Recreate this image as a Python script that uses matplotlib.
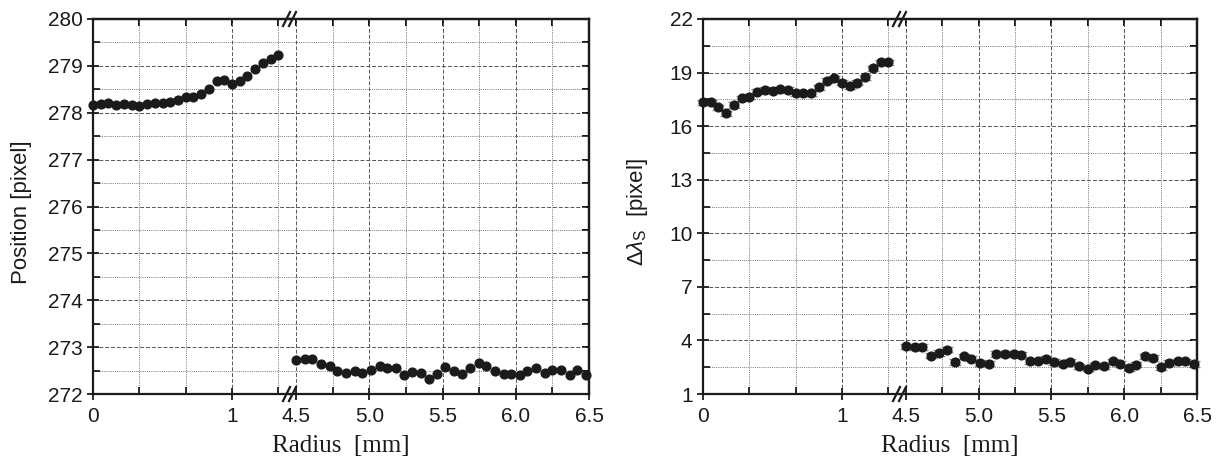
import matplotlib
matplotlib.use("Agg")
import matplotlib.pyplot as plt
from matplotlib.lines import Line2D

# ---------------- data ----------------
radius_inner = [0.0, 0.056, 0.111, 0.167, 0.222, 0.278, 0.333, 0.389, 0.444, 0.5,
                0.556, 0.611, 0.667, 0.722, 0.778, 0.833, 0.889, 0.944, 1.0, 1.056,
                1.111, 1.167, 1.222, 1.278, 1.333]
radius_outer = [4.50, 4.56, 4.61, 4.67, 4.73, 4.78, 4.84, 4.90, 4.95, 5.01, 5.07, 5.12,
                5.18, 5.24, 5.29, 5.35, 5.41, 5.46, 5.52, 5.58, 5.63, 5.69, 5.75, 5.80,
                5.86, 5.92, 5.97, 6.03, 6.08, 6.14, 6.20, 6.25, 6.31, 6.37, 6.42, 6.48]

pos_inner = [278.17, 278.18, 278.21, 278.17, 278.18, 278.16, 278.14, 278.18, 278.21,
             278.21, 278.22, 278.27, 278.33, 278.34, 278.41, 278.50, 278.67, 278.70,
             278.62, 278.68, 278.79, 278.94, 279.07, 279.14, 279.23]
pos_outer = [272.73, 272.75, 272.74, 272.65, 272.60, 272.48, 272.45, 272.48, 272.45,
             272.52, 272.60, 272.55, 272.55, 272.40, 272.46, 272.45, 272.31, 272.43,
             272.57, 272.50, 272.43, 272.55, 272.66, 272.60, 272.50, 272.43, 272.43,
             272.41, 272.50, 272.55, 272.45, 272.52, 272.52, 272.41, 272.52, 272.40]

dl_inner = [17.34, 17.34, 17.06, 16.72, 17.19, 17.56, 17.65, 17.93, 18.03, 17.99,
            18.06, 18.03, 17.84, 17.84, 17.84, 18.18, 18.55, 18.68, 18.44, 18.25,
            18.44, 18.73, 19.24, 19.57, 19.57]
dl_outer = [3.67, 3.63, 3.63, 3.15, 3.29, 3.48, 2.79, 3.11, 2.98, 2.74, 2.70, 3.24,
            3.24, 3.24, 3.20, 2.83, 2.87, 2.98, 2.79, 2.70, 2.79, 2.55, 2.42, 2.60,
            2.55, 2.83, 2.68, 2.46, 2.64, 3.11, 3.01, 2.49, 2.74, 2.83, 2.83, 2.68]
dl_err = 0.15

inner_major = [0, 1]
inner_minor = [1 / 3, 2 / 3, 4 / 3]
outer_major = [4.5, 5.0, 5.5, 6.0, 6.5]
outer_minor = [4.75, 5.25, 5.75, 6.25]

pos_yticks = [272, 273, 274, 275, 276, 277, 278, 279, 280]
pos_yminor = [272.5, 273.5, 274.5, 275.5, 276.5, 277.5, 278.5, 279.5]
dl_yticks = [1, 4, 7, 10, 13, 16, 19, 22]
dl_yminor = [2.5, 5.5, 8.5, 11.5, 14.5, 17.5, 20.5]

# ---------------- figure ----------------
W, H = 1225, 466
fig = plt.figure(figsize=(W / 100, H / 100), dpi=100)
plt.rcParams['font.family'] = ['Liberation Sans', 'DejaVu Sans']
plt.rcParams['mathtext.fontset'] = 'custom'
plt.rcParams['mathtext.rm'] = 'Liberation Sans'
plt.rcParams['mathtext.it'] = 'Liberation Sans:italic'

TOP, BOT = 19, 394
INK = '#1b1b1b'
GRID = '#555555'


def box(x0, x1):
    return [x0 / W, 1 - BOT / H, (x1 - x0) / W, (BOT - TOP) / H]


def style_axis(ax, xmaj, xmin, xlabels, ymaj, ymin, left_side):
    ax.set_xticks(xmaj)
    ax.set_xticklabels(xlabels)
    ax.set_xticks(xmin, minor=True)
    ax.set_yticks(ymaj)
    ax.set_yticks(ymin, minor=True)
    ax.set_axisbelow(True)
    ax.grid(which='major', color=GRID, lw=0.7, ls=(0, (4, 2)))
    ax.grid(which='minor', color='#777777', lw=0.7, ls=(0, (1, 1.2)))
    for s in ax.spines.values():
        s.set_linewidth(1.6)
        s.set_color(INK)
    ax.tick_params(axis='x', which='major', direction='inout', length=9, width=1.3,
                   labelsize=15, pad=5, colors=INK)
    ax.tick_params(axis='x', which='minor', direction='in', length=5, width=1.3, colors=INK)
    ax.tick_params(axis='y', which='major', direction='inout', length=9, width=1.3,
                   labelsize=15, pad=3, colors=INK)
    ax.tick_params(axis='y', which='minor', direction='in', length=5, width=1.3, colors=INK)
    if left_side:
        ax.spines['right'].set_visible(False)
        ax.tick_params(axis='y', which='both', right=False)
        sec = ax.secondary_xaxis('top')
        sec.set_xticks(xmaj + xmin)
        sec.tick_params(direction='in', length=5, width=1.3, labeltop=False)
        sec.spines['top'].set_linewidth(1.6)
    else:
        ax.spines['left'].set_visible(False)
        ax.tick_params(axis='y', which='both', left=False, labelleft=False)
        sec = ax.secondary_xaxis('top')
        sec.set_xticks(xmaj + xmin)
        sec.tick_params(direction='in', length=5, width=1.3, labeltop=False)
        sec.spines['top'].set_linewidth(1.6)
        secy = ax.secondary_yaxis('right')
        secy.set_yticks(ymaj + ymin)
        secy.tick_params(direction='in', length=5, width=1.3, labelright=False)
        secy.spines['right'].set_linewidth(1.6)


def break_marks(xb):
    for yp in (TOP, BOT):
        for dx in (-4, 2):
            fig.add_artist(Line2D([(xb + dx - 3) / W, (xb + dx + 4) / W],
                                  [1 - (yp + 7) / H, 1 - (yp - 7) / H],
                                  color=INK, lw=1.6, transform=fig.transFigure))


def panel(x0, xb, x1, y_in, y_out, ymaj, ymin, ylim, ylabel, ylab_x, err=None):
    a = fig.add_axes(box(x0, xb))
    b = fig.add_axes(box(xb, x1))
    a.set_xlim(0, 1.417)
    b.set_xlim(4.459, 6.5)
    for ax in (a, b):
        ax.set_ylim(*ylim)
    style_axis(a, inner_major, inner_minor, ['0', '1'], ymaj, ymin, True)
    style_axis(b, outer_major, outer_minor, ['4.5', '5.0', '5.5', '6.0', '6.5'],
               ymaj, ymin, False)
    kw = dict(fmt='o', color=INK, ms=6.3, mec=INK, zorder=3)
    if err is not None:
        kw.update(yerr=err, ecolor='#8a8a8a', elinewidth=1.0, capsize=4)
    a.errorbar(radius_inner, y_in, clip_on=False, **kw)
    b.errorbar(radius_outer, y_out, clip_on=False, **kw)
    break_marks(xb)
    fig.text((x0 + x1) / 2 / W, 1 - 446 / H, 'Radius  [mm]', ha='center', va='center',
             fontsize=18, family=['Liberation Serif', 'DejaVu Serif'], color=INK)
    fig.text(ylab_x / W, 1 - 212 / H, ylabel, rotation=90, ha='center', va='center',
             fontsize=16, color=INK)


panel(93, 290, 589, pos_inner, pos_outer, pos_yticks, pos_yminor, (272, 280),
      'Position [pixel]', 22)
panel(703, 900, 1197, dl_inner, dl_outer, dl_yticks, dl_yminor, (1, 22),
      r'$\Delta\lambda_{\mathrm{S}}$  [pixel]', 637, err=dl_err)

fig.savefig('out.png', dpi=100)
